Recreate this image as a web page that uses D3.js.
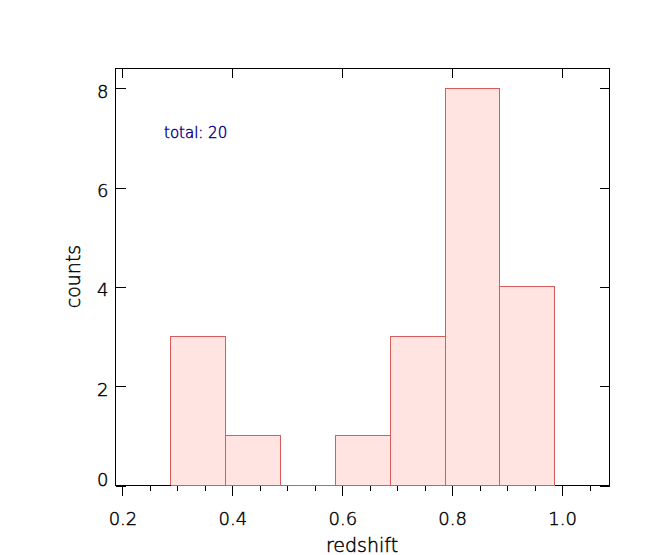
<!DOCTYPE html>
<html>
<head>
<meta charset="utf-8">
<script src="https://cdn.jsdelivr.net/npm/d3@7"></script>
<style>
  body { margin: 0; background: #fff; }
  text { font-family: "DejaVu Sans", sans-serif; font-weight: 200; fill: #000; stroke: #000; stroke-width: 0.45px; }
  text.note { fill: #00008b; stroke: #00008b; }
</style>
</head>
<body>
<div id="chart"></div>
<script>
var svgWidth = 658;
var svgHeight = 555;

// histogram data
var binEdges = [0.287, 0.387, 0.487, 0.587, 0.687, 0.787, 0.887, 0.987];
var binCounts = [3, 1, 0, 1, 3, 8, 4];
var xTicks = [0.2, 0.4, 0.6, 0.8, 1.0];
var xMinorTicks = [0.2, 0.25, 0.3, 0.35, 0.4, 0.45, 0.5, 0.55, 0.6, 0.65, 0.7, 0.75, 0.8, 0.85, 0.9, 0.95, 1.0, 1.05];
var yTicks = [0, 2, 4, 6, 8];
var totalLabel = "total: 20";

var plot = { left: 115, right: 609, top: 68, bottom: 485 };

var svg = d3.select("#chart")
  .append("svg")
  .attr("width", svgWidth)
  .attr("height", svgHeight);

var xScale = d3.scaleLinear()
  .domain([0.1873, 1.0863])
  .range([plot.left, plot.right]);

var yScale = d3.scaleLinear()
  .domain([0, 8.403])
  .range([plot.bottom, plot.top]);

function px(v) { return Math.round(v) + 0.5; }

// bars
var bins = binCounts.map(function(c, i) {
  return { x0: binEdges[i], x1: binEdges[i + 1], count: c };
});

svg.append("g")
  .selectAll("rect")
  .data(bins.filter(d => d.count > 0))
  .enter()
  .append("rect")
  .attr("x", d => px(xScale(d.x0)))
  .attr("y", d => px(yScale(d.count)))
  .attr("width", d => Math.round(xScale(d.x1)) - Math.round(xScale(d.x0)))
  .attr("height", d => Math.round(yScale(0)) - Math.round(yScale(d.count)))
  .attr("fill", "#ffe4e1")
  .attr("stroke", "#d95c5c")
  .attr("stroke-width", 1)
  .attr("shape-rendering", "crispEdges");

// frame
svg.append("rect")
  .attr("x", plot.left + 0.5)
  .attr("y", plot.top + 0.5)
  .attr("width", plot.right - plot.left)
  .attr("height", plot.bottom - plot.top)
  .attr("fill", "none")
  .attr("stroke", "#000")
  .attr("shape-rendering", "crispEdges");

// histogram baseline over the frame
svg.append("line")
  .attr("x1", px(xScale(binEdges[0])))
  .attr("x2", px(xScale(binEdges[binEdges.length - 1])))
  .attr("y1", px(yScale(0)))
  .attr("y2", px(yScale(0)))
  .attr("stroke", "#d95c5c")
  .attr("shape-rendering", "crispEdges");

function styleAxis(g) {
  g.select(".domain").remove();
  g.selectAll("line").attr("stroke", "#000").attr("shape-rendering", "crispEdges");
  g.selectAll("text").attr("font-family", null).attr("fill", null);
}

// bottom axis: minor ticks, then major ticks with labels
svg.append("g")
  .attr("transform", `translate(0.5, ${plot.bottom + 0.5})`)
  .call(d3.axisBottom(xScale).tickValues(xMinorTicks).tickSize(5).tickSizeOuter(0).tickFormat(""))
  .call(styleAxis);

svg.append("g")
  .attr("transform", `translate(0.5, ${plot.bottom + 0.5})`)
  .call(d3.axisBottom(xScale).tickValues(xTicks).tickSize(10).tickSizeOuter(0)
    .tickPadding(17).tickFormat(d3.format(".1f")))
  .call(styleAxis)
  .selectAll("text")
  .attr("font-size", 18);

// top axis: ticks point inward
svg.append("g")
  .attr("transform", `translate(0.5, ${plot.top + 0.5})`)
  .call(d3.axisBottom(xScale).tickValues(xTicks).tickSize(9).tickSizeOuter(0).tickFormat(""))
  .call(styleAxis);

// left axis: ticks inward, labels outside
svg.append("g")
  .attr("transform", `translate(${plot.left + 0.5}, 0.5)`)
  .call(d3.axisLeft(yScale).tickValues(yTicks).tickSize(-10).tickSizeOuter(0).tickPadding(7))
  .call(styleAxis)
  .selectAll("text")
  .attr("font-size", 18)
  .attr("dy", d => d === 0 ? "-0.02em" : "0.5em");

// right axis: ticks inward
svg.append("g")
  .attr("transform", `translate(${plot.right + 0.5}, 0.5)`)
  .call(d3.axisRight(yScale).tickValues(yTicks).tickSize(-10).tickSizeOuter(0).tickFormat(""))
  .call(styleAxis);

// axis titles
svg.append("text")
  .attr("x", (plot.left + plot.right) / 2)
  .attr("y", 552)
  .attr("text-anchor", "middle")
  .attr("font-size", 19)
  .text("redshift");

svg.append("text")
  .attr("transform", `translate(80, ${(plot.top + plot.bottom) / 2}) rotate(-90)`)
  .attr("text-anchor", "middle")
  .attr("font-size", 19)
  .text("counts");

// annotation
svg.append("text")
  .attr("class", "note")
  .attr("x", 164)
  .attr("y", 138)
  .attr("font-size", 15)
  .text(totalLabel);
</script>
</body>
</html>
